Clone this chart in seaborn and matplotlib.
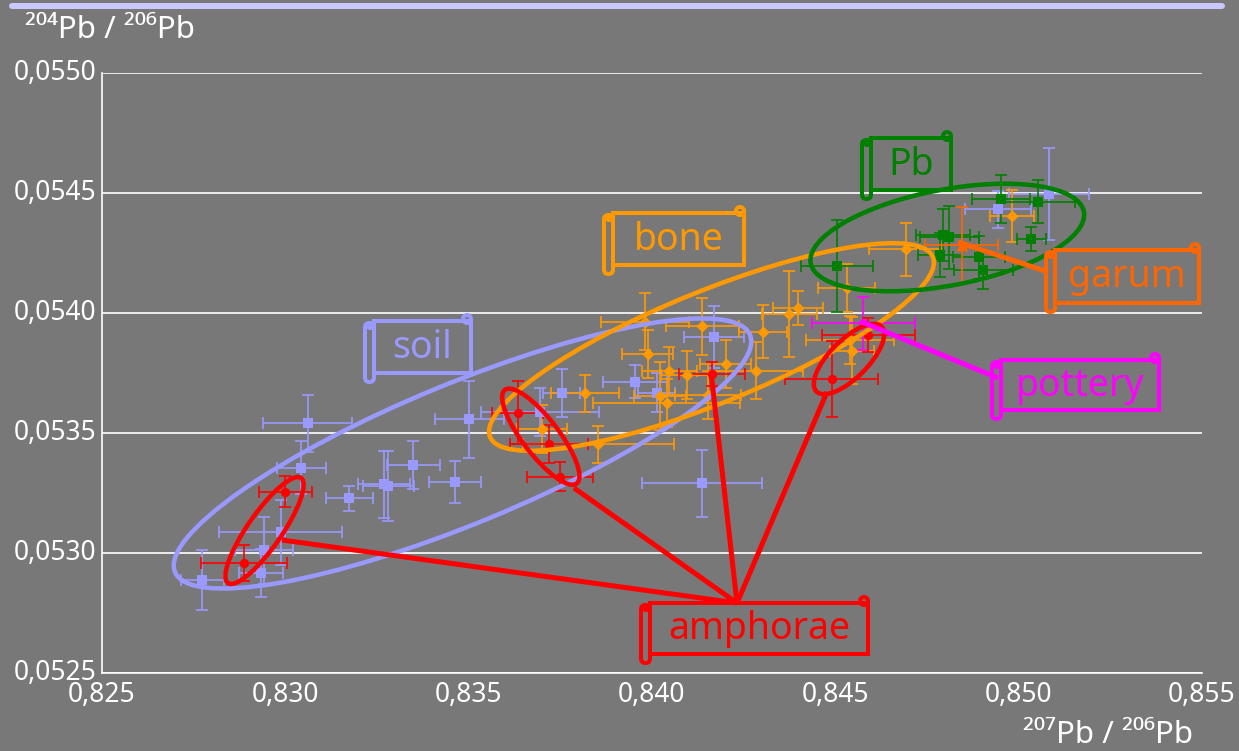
import pandas as pd
import matplotlib.pyplot as plt
import matplotlib.transforms as mtransforms
from matplotlib.patches import Ellipse, Rectangle, FancyBboxPatch, Circle
import seaborn as sns

# data (207Pb/206Pb vs 204Pb/206Pb)
soil_x = [0.82774, 0.82934, 0.82942, 0.82987, 0.83044, 0.83061, 0.83175, 0.83269, 0.83281, 0.83349,
          0.83462, 0.83502, 0.83695, 0.83754, 0.83954, 0.84013, 0.84170, 0.84137, 0.84945, 0.85084]
soil_y = [0.052887, 0.052918, 0.053011, 0.053087, 0.053355, 0.053540, 0.053228, 0.053287, 0.053279, 0.053367,
          0.053295, 0.053557, 0.053588, 0.053668, 0.053714, 0.053668, 0.053901, 0.053290, 0.054432, 0.054496]
soil_xerr = [0.00059, 0.0006, 0.0008, 0.00168, 0.00068, 0.00122, 0.00063, 0.00071, 0.0007, 0.00073,
             0.00071, 0.00095, 0.0016, 0.0005, 0.00087, 0.0005, 0.00082, 0.00164, 0.0009, 0.00109]
soil_yerr = [0.000124, 0.0001, 0.00014, 0.000135, 0.00011, 0.000118, 0.000052, 0.00014, 0.000144, 0.0001,
             0.000088, 0.00016, 0.0001, 0.0001, 0.00007, 0.00008, 0.00013, 0.00014, 0.000076, 0.00019]

bone_x = [0.83699, 0.83817, 0.83854, 0.83981, 0.83988, 0.84047, 0.84022, 0.84040, 0.84095, 0.84137, 0.84201,
          0.84154, 0.84283, 0.84302, 0.84374, 0.84399, 0.84540, 0.84545, 0.84692, 0.84983, 0.84531]
bone_y = [0.053515, 0.053665, 0.053454, 0.053964, 0.053829, 0.053760, 0.053654, 0.053626, 0.053742, 0.053944, 0.053786,
          0.053658, 0.053760, 0.053922, 0.053996, 0.054020, 0.053888, 0.053843, 0.054265, 0.054404, 0.054103]
bone_xerr = [0.00068, 0.00093, 0.00205, 0.0012, 0.0007, 0.00075, 0.0007, 0.002, 0.0007, 0.001, 0.0007,
             0.0009, 0.0013, 0.00066, 0.00075, 0.00068, 0.0012, 0.0006, 0.001, 0.0006, 0.00077]
bone_yerr = [0.0001, 0.000076, 0.000077, 0.00012, 0.0001, 0.0001, 0.00014, 0.0001, 0.0001, 0.00012, 0.0001,
             0.0001, 0.00012, 0.00011, 0.00018, 0.00007, 0.0001, 0.00014, 0.00011, 0.00011, 0.0001]

pb_x = [0.84505, 0.84794, 0.84811, 0.84785, 0.84892, 0.84904, 0.84952, 0.85054, 0.85035]
pb_y = [0.054196, 0.054325, 0.054315, 0.054242, 0.054232, 0.054179, 0.054474, 0.054464, 0.054308]
pb_xerr = [0.00099, 0.00073, 0.0008, 0.0006, 0.0007, 0.0008, 0.0008, 0.001, 0.0004]
pb_yerr = [0.00019, 0.00011, 0.00013, 0.00009, 0.00009, 0.00008, 0.0001, 0.00009, 0.00005]

garum_x, garum_y, garum_xerr, garum_yerr = [0.84845], [0.054283], [0.001], [0.00016]
pottery_x, pottery_y, pottery_xerr, pottery_yerr = [0.84576], [0.053957], [0.0014], [0.00011]

amph_x = [0.83000, 0.82887, 0.83634, 0.83720, 0.83749, 0.84165, 0.84490, 0.84590]
amph_y = [0.053256, 0.052957, 0.053585, 0.053453, 0.053318, 0.053745, 0.053725, 0.053908]
amph_xerr = [0.00073, 0.00117, 0.0007, 0.00106, 0.0009, 0.0009, 0.00126, 0.00126]
amph_yerr = [0.000066, 0.000075, 0.00013, 0.00008, 0.00006, 0.00005, 0.00016, 0.00007]

x_ticks = [0.825, 0.830, 0.835, 0.840, 0.845, 0.850, 0.855]
x_tick_labels = ["0,825", "0,830", "0,835", "0,840", "0,845", "0,850", "0,855"]
y_ticks = [0.0525, 0.0530, 0.0535, 0.0540, 0.0545, 0.0550]
y_tick_labels = ["0,0525", "0,0530", "0,0535", "0,0540", "0,0545", "0,0550"]

groups = {
    "soil": (soil_x, soil_y, soil_xerr, soil_yerr, "#9999ff", "s", 55),
    "bone": (bone_x, bone_y, bone_xerr, bone_yerr, "#ff9900", "D", 38),
    "Pb": (pb_x, pb_y, pb_xerr, pb_yerr, "#008000", "s", 45),
    "garum": (garum_x, garum_y, garum_xerr, garum_yerr, "#ff6600", "^", 70),
    "pottery": (pottery_x, pottery_y, pottery_xerr, pottery_yerr, "#ff00ff", "o", 40),
    "amphorae": (amph_x, amph_y, amph_xerr, amph_yerr, "#ff0000", "o", 45),
}

W, H = 1239, 751
bg = "#787878"
sns.set_style("white")
plt.rcParams["font.family"] = ["Noto Sans", "DejaVu Sans"]

fig = plt.figure(figsize=(W / 100, H / 100), dpi=100, facecolor=bg)
ax = fig.add_axes([102 / W, 78 / H, 1100 / W, 600 / H])
ax.set_facecolor(bg)

for name, (gx, gy, ex, ey, col, mk, sz) in groups.items():
    ax.errorbar(gx, gy, xerr=ex, yerr=ey, fmt="none", ecolor=col, elinewidth=1.2,
                capsize=4, capthick=1.2, zorder=2)
    df = pd.DataFrame({"x": gx, "y": gy})
    sns.scatterplot(data=df, x="x", y="y", color=col, marker=mk, s=sz, linewidth=0,
                    ax=ax, zorder=3, legend=False)

ax.set_xlim(0.825, 0.855)
ax.set_ylim(0.0525, 0.0550)
ax.set_xticks(x_ticks, x_tick_labels)
ax.set_yticks(y_ticks, y_tick_labels)
ax.set_xlabel("")
ax.set_ylabel("")
ax.tick_params(axis="both", colors="white", labelsize=19, width=1.2)
ax.tick_params(axis="x", length=4, pad=2)
ax.tick_params(axis="y", length=0, pad=4)
ax.yaxis.grid(True, color="white", lw=1.2)
ax.xaxis.grid(False)
for s in ["top", "right"]:
    ax.spines[s].set_visible(False)
for s in ["left", "bottom"]:
    ax.spines[s].set_color("white")
    ax.spines[s].set_linewidth(1.2)

# nudge y tick labels up a little, as in the reference
lift = mtransforms.ScaledTranslation(0, 4 / 100, fig.dpi_scale_trans)
for lab in ax.get_yticklabels():
    lab.set_transform(lab.get_transform() + lift)

# annotation layer in reference pixel coordinates (origin top-left)
px = mtransforms.Affine2D().scale(1 / W, -1 / H).translate(0, 1) + fig.transFigure
LW = 0.72  # points per pixel


def ellipse(cx, cy, a, b, ang, col):
    ax.add_patch(Ellipse((cx, cy), 2 * a, 2 * b, angle=-ang, fill=False, ec=col, lw=4.5 * LW,
                         transform=px, clip_on=False, zorder=5))


def link(p0, p1, col):
    ax.plot([p0[0], p1[0]], [p0[1], p1[1]], color=col, lw=5 * LW, transform=px,
            clip_on=False, zorder=5, solid_capstyle="butt")


def scroll(x0, y0, x1, y1, col, label):
    kw = dict(fill=False, ec=col, lw=4 * LW, transform=px, clip_on=False, zorder=6)
    ax.add_patch(Rectangle((x0 + 9, y0), x1 - x0 - 9, y1 - y0 - 9, **kw))
    ax.add_patch(FancyBboxPatch((x0, y0 + 2), 9, y1 - y0 - 2,
                                boxstyle="round,pad=0,rounding_size=4.5", **kw))
    ax.add_patch(Circle((x1 - 4, y0 - 2), 4, **kw))
    ax.add_patch(Circle((x0 + 5, y0 + 5), 2, **kw))
    ax.text((x0 + 9 + x1) / 2, (y0 + y1 - 9) / 2 + 1, label, color=col, fontsize=27,
            ha="center", va="center", transform=px, zorder=6)


ellipse(462.5, 453.5, 311, 70, 22.4, "#9999ff")
ellipse(711.5, 347, 239, 56, 22.1, "#ff9900")
ellipse(947.3, 237.5, 139, 48, 10.7, "#008000")
ellipse(264.5, 530.5, 64, 17, 55.2, "#ff0000")
ellipse(540.8, 436.7, 59, 18, -52.5, "#ff0000")
ellipse(849, 359, 46, 19, 45, "#ff0000")

apex = (737, 603)
for tgt in [(282, 540), (574, 488), (711, 372), (827, 392)]:
    link(apex, tgt, "#ff0000")
link((958, 242), (1048, 272), "#ff6600")
link((862, 322), (998, 378), "#ff00ff")

scroll(365, 321, 471, 382, "#9999ff", "soil")
scroll(604, 213, 744, 274, "#ff9900", "bone")
scroll(862, 138, 951, 199, "#008000", "Pb")
scroll(1046, 250, 1199, 312, "#ff6600", "garum")
scroll(992, 360, 1159, 419, "#ff00ff", "pottery")
scroll(641, 603, 868, 663, "#ff0000", "amphorae")

# axis titles and top band
fig.add_artist(plt.Line2D([12, 1222], [6, 6], color="#c8c8ff", lw=6 * LW, transform=px))
fig.text(25, 30, "²⁰⁴Pb / ²⁰⁶Pb", color="white", fontsize=22.5, ha="left", va="center", transform=px)
fig.text(1193, 735, "²⁰⁷Pb / ²⁰⁶Pb", color="white", fontsize=22.5, ha="right", va="center", transform=px)

fig.savefig("out.png", dpi=100, facecolor=bg)
